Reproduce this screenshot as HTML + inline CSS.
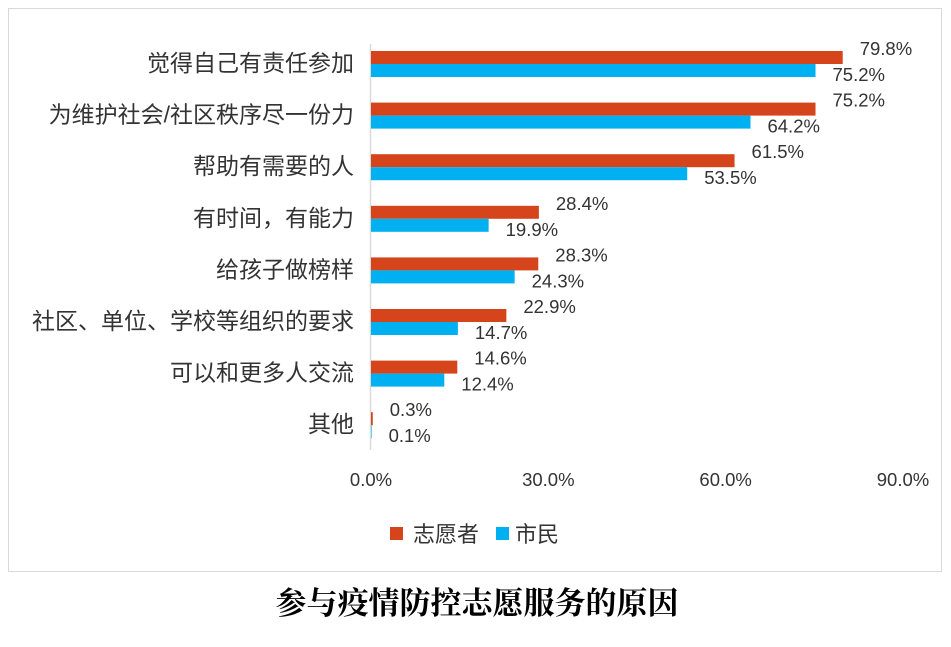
<!DOCTYPE html>
<html><head><meta charset="utf-8"><style>
body{margin:0;background:#fff;width:951px;height:642px;overflow:hidden}
svg text{font-family:"Liberation Sans","Noto Sans CJK SC",sans-serif}
</style></head><body>
<svg id="chart" width="951" height="642">
<rect x="8.5" y="8.5" width="933" height="563" fill="#fff" stroke="#d9d9d9"/>
<g id="plot"></g>
<rect x="390" y="527" width="13" height="13" fill="#D5441A"/>
<text x="413" y="542" font-size="22" fill="#333">志愿者</text>
<rect x="496" y="527" width="13" height="13" fill="#00B0F0"/>
<text x="515" y="542" font-size="22" fill="#333">市民</text>
<text x="477" y="614" text-anchor="middle" font-size="31" font-weight="bold" fill="#000" style="font-family:'Liberation Serif','Noto Serif CJK SC',serif">参与疫情防控志愿服务的原因</text>
</svg>
<script>
const categories=["觉得自己有责任参加","为维护社会/社区秩序尽一份力","帮助有需要的人","有时间，有能力","给孩子做榜样","社区、单位、学校等组织的要求","可以和更多人交流","其他"];
const volunteer=[79.8,75.2,61.5,28.4,28.3,22.9,14.6,0.3];
const citizen=[75.2,64.2,53.5,19.9,24.3,14.7,12.4,0.1];
const ticks=[0,30,60,90];
const tickLabels=["0.0%","30.0%","60.0%","90.0%"];
const NS="http://www.w3.org/2000/svg";
const g=document.getElementById('plot');
const x=v=>371+v*(903-371)/90;
const y0=63,step=51.6;
const yc=i=>y0+i*step;
function mk(t,a){const e=document.createElementNS(NS,t);for(const k in a)e.setAttribute(k,a[k]);g.appendChild(e);return e;}
const ax=mk('line',{x1:370.5,x2:370.5,y1:44,y2:450,stroke:'#d9d9d9','stroke-width':1.5});


ticks.forEach((t,i)=>{const e=mk('text',{x:x(t),y:486,'text-anchor':'middle','font-size':18.5,fill:'#333'});e.textContent=tickLabels[i];

});
categories.forEach((c,i)=>{
const cy=yc(i);
const l=mk('text',{x:354,y:cy+8,'text-anchor':'end','font-size':23,fill:'#333'});l.textContent=c;


const b1=mk('rect',{x:x(0),y:cy-12,width:Math.max(x(volunteer[i])-x(0),0.5),height:13,fill:'#D5441A'});


const b2=mk('rect',{x:x(0),y:cy+1,width:Math.max(x(citizen[i])-x(0),0.5),height:13,fill:'#00B0F0'});


const t1=mk('text',{x:x(volunteer[i])+17,y:cy-8,'font-size':18.5,fill:'#333'});t1.textContent=volunteer[i].toFixed(1)+'%';


const t2=mk('text',{x:x(citizen[i])+17,y:cy+18,'font-size':18.5,fill:'#333'});t2.textContent=citizen[i].toFixed(1)+'%';


});
</script>
</body></html>
